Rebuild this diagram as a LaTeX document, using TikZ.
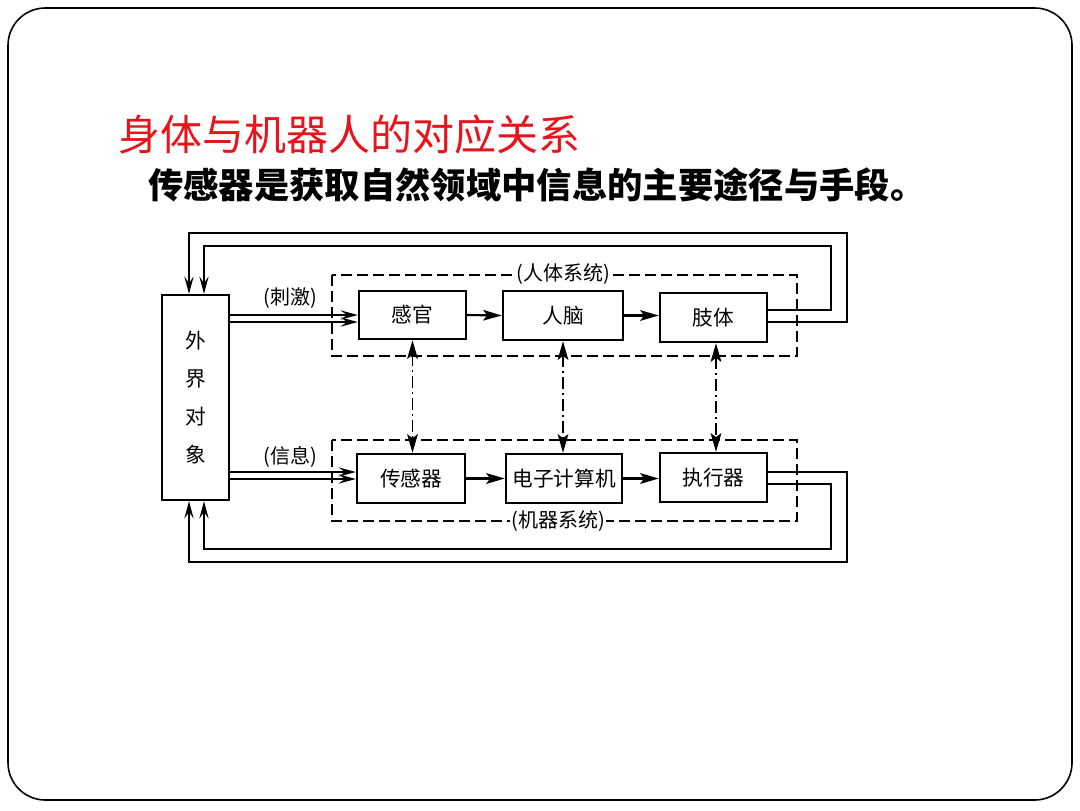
\documentclass[tikz,border=0pt]{standalone}
\usepackage{fontspec}
\newfontfamily\cjk{Noto Sans CJK SC}
\usetikzlibrary{arrows.meta}
\definecolor{titlered}{RGB}{232,20,28}
\begin{document}
\begin{tikzpicture}[x=0.75pt,y=-0.75pt,
  box/.style={draw,line width=1.8pt,inner sep=0pt,font=\cjk\fontsize{15.5}{18}\selectfont},
  lbl/.style={inner sep=1pt,font=\cjk\fontsize{15}{18}\selectfont},
  wire/.style={line width=1.6pt},
  sys/.style={line width=1.5pt,dash pattern=on 8pt off 4pt},
  harr/.style={wire,-{Stealth[length=14pt,width=8pt,inset=3pt]}},
  barb/.style={line width=1.4pt,-{Stealth[length=13pt,width=7pt,inset=5pt]}},
  darr/.style={line width=1.4pt,dash pattern=on 9pt off 3pt on 1.5pt off 3pt,{Stealth[length=14pt,width=8pt,inset=3pt]}-{Stealth[length=14pt,width=8pt,inset=3pt]}}
]
\useasboundingbox (0,0) rectangle (1080,810);
% slide frame
\draw[line width=1.2pt,rounded corners=28pt] (8,8) rectangle (1072,800);
% titles
\node[anchor=west,inner sep=0pt,text=titlered,font=\cjk\fontsize{31.5}{36}\selectfont] (title) at (118,135) {身体与机器人的对应关系};
\node[anchor=west,inner sep=0pt,font=\cjk\bfseries\fontsize{26.5}{30}\selectfont] (sub) at (148,185) {传感器是获取自然领域中信息的主要途径与手段。};
% system boxes
\draw[sys] (332,275) rectangle (797,356);
\draw[sys] (332,440) rectangle (797,521);
\node[lbl,fill=white] (hs) at (563,274) {(人体系统)};
\node[lbl,fill=white] (ms) at (558,521) {(机器系统)};
% blocks
\node[box,minimum width=50.25pt,minimum height=153.75pt,align=center,font=\cjk\fontsize{15.5}{28.5}\selectfont] (wj) at (195.5,397.5) {外\\界\\对\\象};
\node[box,minimum width=80.25pt,minimum height=36pt] (gan) at (412.5,315) {感官};
\node[box,minimum width=90pt,minimum height=36.75pt] (nao) at (563,315.5) {人脑};
\node[box,minimum width=80.25pt,minimum height=36.75pt] (zhi) at (713.5,317.5) {肢体};
\node[box,minimum width=81pt,minimum height=36.75pt] (cgq) at (411,478.5) {传感器};
\node[box,minimum width=87pt,minimum height=36.75pt] (dn) at (564,478.5) {电子计算机};
\node[box,minimum width=80.25pt,minimum height=36.75pt] (zxq) at (713.5,477.5) {执行器};
% labels
\node[lbl] (cj) at (290,298) {(刺激)};
\node[lbl] (xx) at (290,457) {(信息)};
% chain arrows
\draw[harr] (gan.east) -- (nao.west);
\draw[harr] (nao.east) -- (nao.east -| zhi.west);
\draw[harr] (cgq.east) -- (dn.west);
\draw[harr] (dn.east) -- (dn.east -| zxq.west);
% double inputs
\draw[barb] (wj.east |- 0,315) -- (gan.west |- 0,315);
\draw[barb] (wj.east |- 0,322) -- (gan.west |- 0,322);
\draw[barb] (wj.east |- 0,472) -- (cgq.west |- 0,472);
\draw[barb] (wj.east |- 0,479) -- (cgq.west |- 0,479);
% correspondences
\draw[darr] (gan.south) -- (gan.south |- cgq.north);
\draw[darr] (nao.south) -- (nao.south |- dn.north);
\draw[darr] (716,0 |- zhi.south) -- (716,0 |- zxq.north);
% feedback loops
\draw[barb] (zhi.east |- 0,322) -- (847,322) -- (847,233) -- (189,233) -- (189,0 |- wj.north);
\draw[barb] (zhi.east |- 0,310) -- (831,310) -- (831,246) -- (204,246) -- (204,0 |- wj.north);
\draw[barb] (zxq.east |- 0,472) -- (847,472) -- (847,562) -- (189,562) -- (189,0 |- wj.south);
\draw[barb] (zxq.east |- 0,484) -- (831,484) -- (831,549) -- (204,549) -- (204,0 |- wj.south);
\end{tikzpicture}
\end{document}
